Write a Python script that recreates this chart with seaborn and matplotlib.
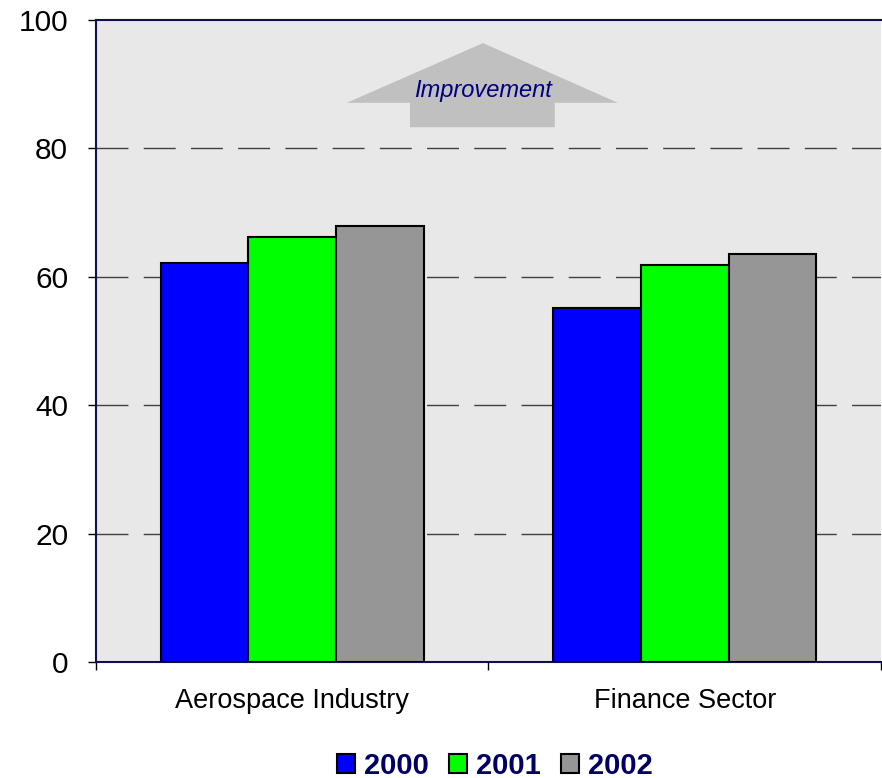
import matplotlib
matplotlib.use("Agg")
import matplotlib.pyplot as plt
from matplotlib.patches import Polygon, Patch
import seaborn as sns
import pandas as pd

sectors = ["Aerospace Industry", "Finance Sector"]
years = ["2000", "2001", "2002"]
values_2000 = [62.1, 55.1]
values_2001 = [66.2, 61.8]
values_2002 = [67.9, 63.5]
year_colors = ["#0000ff", "#00ff00", "#969696"]
y_ticks = [0, 20, 40, 60, 80, 100]

rows = []
for yr, vals in zip(years, [values_2000, values_2001, values_2002]):
    for sec, v in zip(sectors, vals):
        rows.append({"Sector": sec, "Year": yr, "Score": v})
df = pd.DataFrame(rows)

sns.set_theme(style="white")
plt.rcParams["font.family"] = ["Liberation Sans", "DejaVu Sans"]

fig = plt.figure(figsize=(8.82, 7.78), dpi=100)
ax = fig.add_axes([0.1088, 0.149, 0.89, 0.8253])
ax.set_facecolor("#e8e8e8")

sns.barplot(data=df, x="Sector", y="Score", hue="Year", order=sectors,
            hue_order=years, palette=year_colors, width=0.67,
            edgecolor="black", linewidth=1.5, saturation=1, ax=ax,
            legend=False, zorder=3)

ax.set_xlim(-0.5, 1.5)
ax.set_ylim(0, 100)
ax.set_yticks(y_ticks)
ax.set_yticklabels([str(t) for t in y_ticks], fontsize=21.5, color="black")

# dashed reference lines
for t in y_ticks[1:-1]:
    ax.axhline(t, color="#404040", lw=1.0, linestyle=(0, (23, 11)), zorder=1)

ax.set_xticks([0, 1])
ax.set_xticklabels(sectors, fontsize=19.5, color="black")
ax.tick_params(axis="x", which="major", length=0, pad=19)
ax.set_xticks([-0.5, 0.5, 1.5], minor=True)
ax.tick_params(axis="x", which="minor", length=6, width=1, color="black",
               direction="out", bottom=True)
ax.tick_params(axis="y", length=6, width=1, color="black", direction="out",
               left=True, pad=14)
ax.set_xlabel("")
ax.set_ylabel("")

for side in ["left", "bottom", "top"]:
    ax.spines[side].set_color("#10104a")
    ax.spines[side].set_linewidth(1.5)
ax.spines["right"].set_visible(False)

# "Improvement" arrow
arrow = Polygon([(0.139, 87.1), (0.486, 96.4), (0.830, 87.1),
                 (0.669, 87.1), (0.669, 83.3), (0.300, 83.3), (0.300, 87.1)],
                closed=True, facecolor="#c0c0c0", edgecolor="none", zorder=2)
ax.add_patch(arrow)
ax.text(0.486, 89.0, "Improvement", ha="center", va="center", fontsize=17,
        style="italic", color="#000080", zorder=4)

handles = [Patch(facecolor=c, edgecolor="black", linewidth=1.5) for c in year_colors]
leg = fig.legend(handles, years, loc="center", bbox_to_anchor=(0.561, 0.016),
                 ncol=3, frameon=False, handlelength=0.62, handleheight=0.62,
                 handletextpad=0.31, columnspacing=0.69, borderpad=0.1,
                 prop={"size": 21, "weight": "bold"})
for txt in leg.get_texts():
    txt.set_color("#000066")

fig.savefig("out.png", dpi=100, facecolor="white")
